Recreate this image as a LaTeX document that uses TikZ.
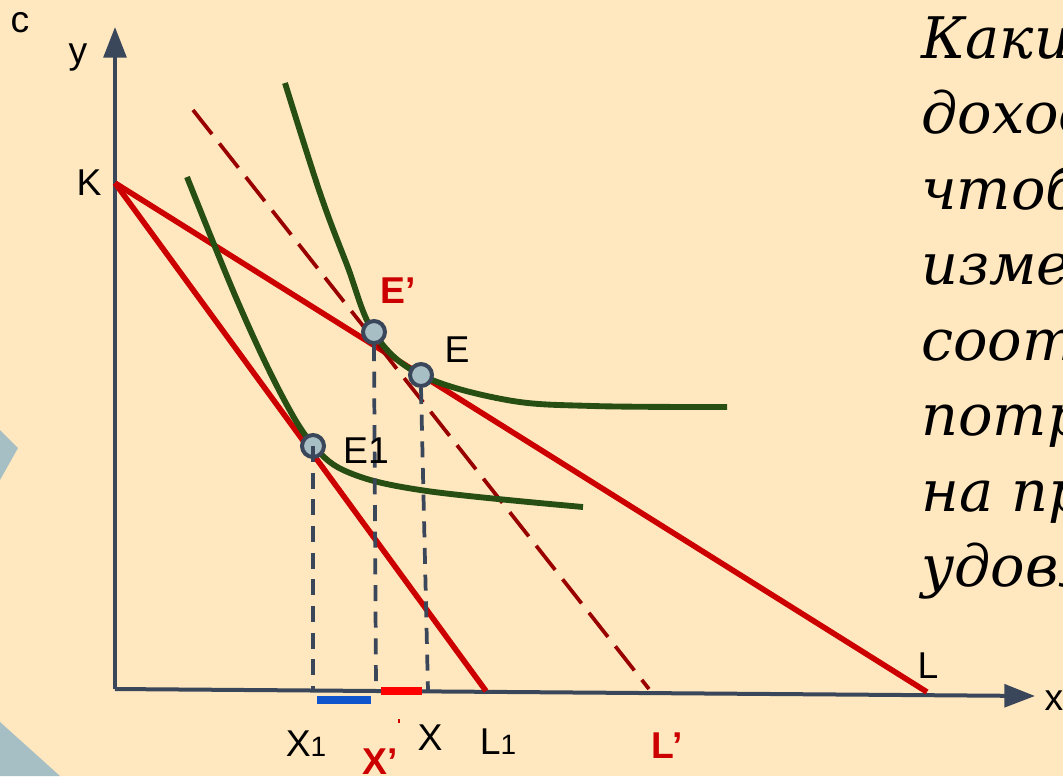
\documentclass[tikz,border=0pt]{standalone}
\usepackage{fontspec}
\setmainfont{Liberation Sans}
\newfontfamily\rufont{DejaVu Serif}
\usetikzlibrary{arrows.meta,positioning,calc}

\definecolor{paper}{HTML}{FFE8BF}
\definecolor{slate}{HTML}{3A4659}
\definecolor{budgetred}{HTML}{CC0000}
\definecolor{darkred}{HTML}{990000}
\definecolor{curvegreen}{HTML}{274E13}
\definecolor{ptfill}{HTML}{A7BEC5}
\definecolor{segblue}{HTML}{1155CC}
\definecolor{segred}{HTML}{FF0000}
\definecolor{decor}{HTML}{A6BFC4}

\newcommand{\subno}[1]{{\fontsize{21}{21}\selectfont #1}}

\begin{document}
\begin{tikzpicture}[
  x=0.75pt, y=-0.75pt,
  axis/.style={draw=slate, line width=3pt, -{Triangle[length=23pt,width=17pt]}},
  budget/.style={draw=budgetred, line width=4.2pt},
  shifted/.style={draw=darkred, line width=2.8pt, dash pattern=on 23pt off 9pt},
  icurve/.style={draw=curvegreen, line width=4.4pt},
  drop/.style={draw=slate, line width=2.8pt, dash pattern=on 12pt off 8pt},
  pt/.style={circle, draw=slate, line width=3pt, fill=ptfill, minimum size=16.5pt, inner sep=0pt},
  lbl/.style={font=\fontsize{28}{28}\selectfont, inner sep=0pt},
  redlbl/.style={font=\fontsize{28}{28}\selectfont\bfseries, text=budgetred, inner sep=0pt},
  question/.style={font=\rufont\itshape\fontsize{43}{43}\selectfont, anchor=base west, inner sep=0pt}
]
\useasboundingbox (0,0) rectangle (1063,776);
\clip (0,0) rectangle (1063,776);
\fill[paper] (0,0) rectangle (1063,776);
\fill[decor] (0,430) -- (18,448) -- (0,480) -- cycle;
\fill[decor] (0,722) -- (60,776) -- (0,776) -- cycle;

% axes
\coordinate (O) at (115,689);
\coordinate (ytip) at (115,27);
\coordinate (xtip) at (1035,696);
\draw[axis] (O) -- (ytip);
\draw[axis] (O) -- (xtip);

% budget lines
\coordinate (K) at (115,183);
\coordinate (L) at (927,692);
\coordinate (L1) at (486,691);
\coordinate (Ltop) at (193,110);
\coordinate (Lp) at (649,689);
\draw[budget] (K) -- (L);
\draw[budget] (K) -- (L1);
\draw[shifted] (Ltop) -- (Lp);

% indifference curves
\draw[icurve] plot[smooth, tension=0.6] coordinates {(285,83) (320,193) (347,265) (374,333) (421,375) (507,400) (593,406) (727,407)};
\draw[icurve] plot[smooth, tension=0.6] coordinates {(187,177) (237,300) (280,392) (313,445) (350,473) (427,491) (583,507)};

% equilibria
\node[pt] (Ep) at (374,332) {};
\node[pt] (E) at (421,375) {};
\node[pt] (E1) at (313,446) {};
\coordinate (X1foot) at (313,690);
\coordinate (Xpfoot) at (376,690);
\coordinate (Xfoot) at (428,691);
\draw[drop] (E1.center) -- (X1foot);
\draw[drop] (Ep.south) -- (Xpfoot);
\draw[drop] (E.south) -- (Xfoot);

\draw[segblue, line width=6pt] (317,700) -- (371,700);
\draw[segred, line width=6pt] (381,691) -- (422,691);
\draw[budgetred, line width=0.8pt] (399,719) -- (399,723);

% labels
\node[lbl] (clbl) at (20,23) {c};
\node[lbl] (ylbl) at (78,58) {y};
\node[lbl] (xlbl) at (1054,701) {x};
\node[lbl] (Klbl) at (89,183) {K};
\node[lbl] (Llbl) at (928,666) {L};
\node[lbl] (Elbl) at (457,350) {E};
\node[lbl] (E1lbl) at (366,451) {E1};
\node[redlbl] (Eplbl) at (398,291) {E’};
\node[lbl] (X1lbl) at (306,744) {X\subno{1}};
\node[redlbl] (Xplbl) at (380,762) {X’};
\node[lbl] (Xlbl) at (430,738) {X};
\node[lbl] (L1lbl) at (498,742) {L\subno{1}};
\node[redlbl] (Lplbl) at (667,746) {L’};

% question text
\node[question] (q1) at (921,58) {Каки};
\node[question] (q2) at (921,133.5) {доход};
\node[question] (q3) at (921,209) {чтоб};
\node[question] (q4) at (921,284.5) {изме};
\node[question] (q5) at (921,360) {соот};
\node[question] (q6) at (921,435.5) {потр};
\node[question] (q7) at (921,511) {на пр};
\node[question] (q8) at (921,586.5) {удовл};
\end{tikzpicture}
\end{document}
